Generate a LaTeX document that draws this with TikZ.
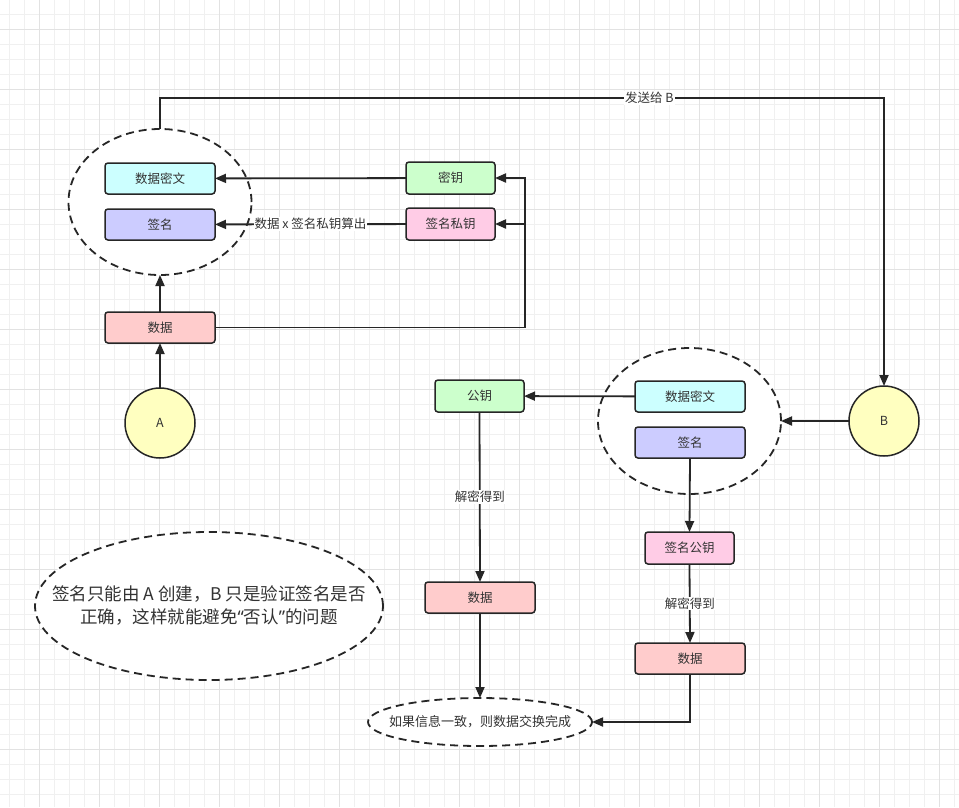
\documentclass[tikz,border=0pt]{standalone}
\usepackage{fontspec}
\setmainfont{Noto Sans CJK SC}
\newfontfamily\latq{Noto Sans}
\usetikzlibrary{shapes.geometric,arrows.meta}
\definecolor{ink}{HTML}{262626}
\definecolor{txt}{HTML}{333333}
\definecolor{cyanf}{HTML}{CCFFFF}
\definecolor{bluef}{HTML}{CCCCFF}
\definecolor{greenf}{HTML}{CCFFCC}
\definecolor{pinkf}{HTML}{FFCCE6}
\definecolor{redf}{HTML}{FFCCCC}
\definecolor{yellowf}{HTML}{FFFFC0}
\definecolor{gridminor}{HTML}{F0F0F0}
\definecolor{gridmajor}{HTML}{E2E2E2}
\tikzset{
  box/.style={draw=ink, line width=1.5pt, rounded corners=3pt, minimum width=110pt, minimum height=31pt, inner sep=0pt, outer sep=0pt, font=\fontsize{12.5}{14}\selectfont, text=txt},
  sbox/.style={box, minimum width=89pt, minimum height=32pt},
  circ/.style={circle, draw=ink, line width=1.5pt, fill=yellowf, minimum size=70pt, inner sep=0pt, outer sep=0pt, font=\fontsize{12.5}{14}\selectfont, text=txt},
  dell/.style={ellipse, draw=ink, line width=1.8pt, dash pattern=on 8pt off 5pt, fill=white, inner sep=0pt, outer sep=0pt, text=txt},
  arr/.style={draw=ink, line width=1.8pt, -{Triangle[length=11pt,width=9pt]}},
  conn/.style={draw=ink, line width=1.8pt},
  lab/.style={fill=white, inner sep=1pt, text=txt, font=\fontsize{12.5}{14}\selectfont},
}
\begin{document}
\begin{tikzpicture}[x=1pt,y=-1pt]
\useasboundingbox (0,0) rectangle (959,807);
\fill[white] (0,0) rectangle (959,807);
\foreach \k in {0,...,63} \draw[gridminor, line width=0.8pt] ({9.3+15*\k},0) -- ({9.3+15*\k},807);
\foreach \k in {0,...,52} \draw[gridminor, line width=0.8pt] (0,{14.3+15*\k}) -- (959,{14.3+15*\k});
\foreach \k in {0,...,15} \draw[gridmajor, line width=0.8pt] ({39.3+60*\k},0) -- ({39.3+60*\k},807);
\foreach \k in {0,...,13} \draw[gridmajor, line width=0.8pt] (0,{29.3+60*\k}) -- (959,{29.3+60*\k});

% top-left group
\node[dell, minimum width=183pt, minimum height=146pt] (ell1) at (160,202) {};
\node[box, fill=cyanf] (ct1) at (160,178.5) {数据密文};
\node[box, fill=bluef] (sg1) at (160,224.5) {签名};
\node[sbox, fill=greenf] (key) at (450.5,178) {密钥};
\node[sbox, fill=pinkf] (priv) at (450.5,224) {签名私钥};
\node[box, fill=redf] (data1) at (160,327.5) {数据};
\node[circ] (A) at (160,423) {A};
\coordinate (jr) at (525,327.5);

\draw[arr] (A) -- (data1);
\draw[arr] (data1) -- (ell1.south);
\draw[conn] (data1.east) -- (jr);
\draw[arr] (jr) |- (key.east);
\draw[arr] (jr |- priv.east) -- (priv.east);
\draw[arr] (key) -- (ct1);
\draw[arr] (priv) -- node[lab, pos=0.5]{数据 x 签名私钥算出} (sg1);

% B side
\node[circ] (B) at (884,421) {B};
\coordinate (topR) at (884,98);
\draw[arr] (ell1.north) |- node[lab, pos=0.838]{发送给 B} (topR) -- (B.north);

\node[dell, minimum width=183pt, minimum height=146pt] (ell2) at (689.5,421) {};
\node[box, fill=cyanf] (ct2) at (690,396.5) {数据密文};
\node[box, fill=bluef] (sg2) at (690,442.5) {签名};
\node[sbox, fill=greenf] (pub) at (479.5,396) {公钥};
\node[sbox, fill=pinkf] (spub) at (689.5,548) {签名公钥};
\node[box, fill=redf] (data2) at (480,597.5) {数据};
\node[box, fill=redf] (data3) at (690,658.5) {数据};
\node[dell, minimum width=224pt, minimum height=48pt, label={[text=txt, font=\fontsize{13}{15}\selectfont]center:如果信息一致，则数据交换完成}] (ell3) at (480,722) {};

\draw[arr] (B) -- (ell2.east);
\draw[arr] (ct2) -- (pub);
\draw[arr] (pub.south) -- node[lab, pos=0.5]{解密得到} (data2.north);
\draw[arr] (data2.south) -- (ell3.north);
\draw[arr] (sg2.south) -- (spub.north);
\draw[arr] (spub.south) -- node[lab, pos=0.5]{解密得到} (data3.north);
\draw[arr] (data3.south) |- (ell3.east);

% note
\node[dell, minimum width=348pt, minimum height=148pt, label={[text=txt, align=center, font=\fontsize{17.5}{23}\selectfont]center:签名只能由 A 创建，B 只是验证签名是否\\正确，这样就能避免{\latq “}否认{\latq ”}的问题}] (note) at (209,606) {};
\end{tikzpicture}
\end{document}
